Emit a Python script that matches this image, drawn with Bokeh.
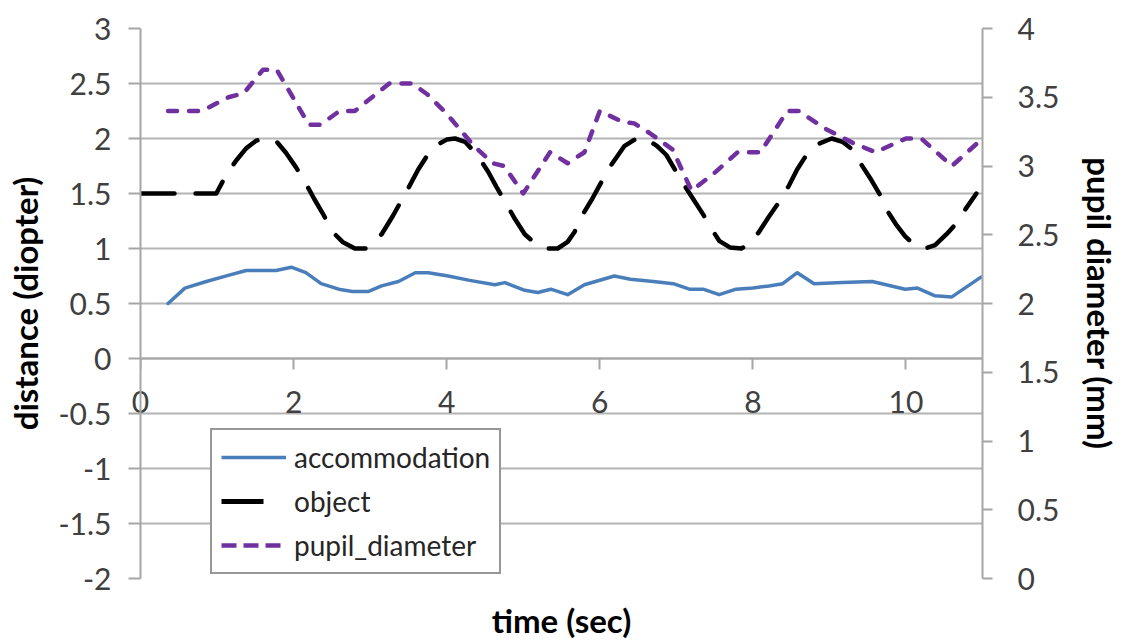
from bokeh.plotting import figure
from bokeh.models import Range1d, LinearAxis, FixedTicker, Legend, LegendItem
from bokeh.embed import file_html
from bokeh.resources import INLINE

# ---------------- data ----------------
acc_t = [0.36, 0.58, 0.86, 1.17, 1.38, 1.77, 1.97, 2.16, 2.36, 2.59, 2.77, 2.98, 3.15, 3.37,
         3.59, 3.76, 4.02, 4.30, 4.63, 4.76, 5.02, 5.19, 5.36, 5.58, 5.80, 6.19, 6.40, 6.70,
         6.96, 7.17, 7.35, 7.56, 7.78, 8.00, 8.21, 8.39, 8.58, 8.80, 9.17, 9.56, 9.99, 10.15,
         10.38, 10.60, 10.98]
acc_v = [0.50, 0.64, 0.70, 0.76, 0.80, 0.80, 0.83, 0.78, 0.68, 0.63, 0.61, 0.61, 0.66, 0.70,
         0.78, 0.78, 0.75, 0.71, 0.67, 0.69, 0.62, 0.60, 0.63, 0.58, 0.67, 0.75, 0.72, 0.70,
         0.68, 0.63, 0.63, 0.58, 0.63, 0.64, 0.66, 0.68, 0.78, 0.68, 0.69, 0.70, 0.63, 0.64,
         0.57, 0.56, 0.74]

obj_t = [0.00, 0.99, 1.12, 1.25, 1.38, 1.51, 1.64, 1.78, 1.90, 2.03, 2.16, 2.27, 2.38, 2.51,
         2.64, 2.80, 2.94, 3.05, 3.15, 3.30, 3.50, 3.63, 3.75, 3.87, 4.00, 4.11, 4.24, 4.40,
         4.54, 4.65, 4.76, 4.89, 5.02, 5.15, 5.30, 5.45, 5.58, 5.67, 5.77, 5.90, 6.01, 6.15,
         6.32, 6.48, 6.62, 6.75, 6.87, 6.98, 7.10, 7.22, 7.35, 7.46, 7.56, 7.70, 7.85, 7.95,
         8.08, 8.20, 8.35, 8.47, 8.58, 8.70, 8.82, 9.03, 9.17, 9.30, 9.42, 9.55, 9.66, 9.75,
         9.87, 9.99, 10.10, 10.25, 10.38, 10.53, 10.66, 10.78, 10.92]
obj_v = [1.50, 1.50, 1.67, 1.80, 1.91, 1.98, 2.00, 1.97, 1.87, 1.74, 1.59, 1.45, 1.32, 1.15,
         1.06, 1.00, 1.00, 1.06, 1.13, 1.30, 1.55, 1.72, 1.85, 1.94, 1.99, 2.00, 1.97, 1.85,
         1.70, 1.56, 1.43, 1.27, 1.13, 1.05, 1.00, 1.00, 1.06, 1.15, 1.30, 1.45, 1.59, 1.76,
         1.93, 2.00, 1.99, 1.93, 1.85, 1.72, 1.58, 1.45, 1.31, 1.18, 1.07, 1.01, 1.00, 1.04,
         1.15, 1.28, 1.43, 1.57, 1.72, 1.85, 1.94, 2.00, 1.97, 1.90, 1.76, 1.62, 1.49, 1.35,
         1.22, 1.11, 1.04, 1.00, 1.03, 1.13, 1.23, 1.36, 1.50]

pup_t = [0.36, 0.80, 1.15, 1.35, 1.60, 1.78, 2.20, 2.35, 2.60, 2.80, 3.25, 3.55, 3.75, 4.00,
         4.35, 4.60, 4.75, 5.00, 5.35, 5.58, 5.80, 6.00, 6.30, 6.45, 6.65, 6.95, 7.20, 7.50,
         7.80, 8.10, 8.45, 8.60, 8.95, 9.30, 9.60, 10.00, 10.20, 10.60, 11.00]
pup_v = [3.40, 3.40, 3.50, 3.53, 3.70, 3.70, 3.30, 3.30, 3.40, 3.40, 3.60, 3.60, 3.52, 3.38,
         3.15, 3.02, 3.00, 2.80, 3.10, 3.02, 3.10, 3.40, 3.32, 3.31, 3.24, 3.12, 2.82, 2.95,
         3.10, 3.10, 3.40, 3.40, 3.27, 3.17, 3.10, 3.20, 3.20, 3.00, 3.20]

x_ticks = [0, 2, 4, 6, 8, 10]
x_labels = ["0", "2", "4", "6", "8", "10"]
left_ticks = [-2, -1.5, -1, -0.5, 0, 0.5, 1, 1.5, 2, 2.5, 3]
left_labels = ["-2", "-1.5", "-1", "-0.5", "0", "0.5", "1", "1.5", "2", "2.5", "3"]
right_ticks = [0, 0.5, 1, 1.5, 2, 2.5, 3, 3.5, 4]
right_labels = ["0", "0.5", "1", "1.5", "2", "2.5", "3", "3.5", "4"]

series_names = ["accommodation", "object", "pupil_diameter"]

# ---------------- styling ----------------
FONT = "Lato"
TICK_COLOR = "#404040"
GRID = "#b4b4b4"
AXIS = "#a6a6a6"
C_ACC = "#4a7ebb"
C_OBJ = "#000000"
C_PUP = "#7030a0"
TICK_SIZE = "30px"
TITLE_SIZE = "33px"

p = figure(width=1123, height=643, output_backend="svg", toolbar_location=None,
           x_range=Range1d(0, 11), y_range=Range1d(-2, 3),
           min_border_left=140, min_border_right=135, min_border_top=28, min_border_bottom=65)
p.outline_line_color = None
p.background_fill_color = "white"
p.border_fill_color = "white"
p.xgrid.visible = False

left_ticker = FixedTicker(ticks=left_ticks)
x_ticker = FixedTicker(ticks=x_ticks)
p.ygrid.ticker = left_ticker
p.ygrid.grid_line_color = GRID
p.ygrid.grid_line_width = 2

# bottom axis: carries the tick labels (pulled up under the y=0 line) and the title
xa = p.xaxis[0]
xa.ticker = x_ticker
xa.major_label_overrides = {t: l for t, l in zip(x_ticks, x_labels)}
xa.axis_line_color = None
xa.major_tick_line_color = None
xa.minor_tick_line_color = None
xa.major_tick_in = 0
xa.major_tick_out = 0
xa.minor_tick_in = 0
xa.minor_tick_out = 0
xa.major_label_standoff = -188
xa.major_label_text_font = FONT
xa.major_label_text_font_size = TICK_SIZE
xa.major_label_text_color = TICK_COLOR
xa.axis_label = "time (sec)"
xa.axis_label_text_font = FONT
xa.axis_label_text_font_size = TITLE_SIZE
xa.axis_label_text_font_style = "bold"
xa.axis_label_text_color = "black"
xa.axis_label_standoff = 184

# axis line + ticks crossing at y = 0
xz = LinearAxis(ticker=x_ticker, fixed_location=0)
xz.major_label_text_alpha = 0
xz.minor_tick_line_color = None
xz.major_tick_in = 0
xz.major_tick_out = 11
xz.major_tick_line_color = AXIS
xz.major_tick_line_width = 2
xz.axis_line_color = AXIS
xz.axis_line_width = 2
p.add_layout(xz, "below")

ya = p.yaxis[0]
ya.ticker = left_ticker
ya.major_label_overrides = {t: l for t, l in zip(left_ticks, left_labels)}
ya.minor_tick_line_color = None
ya.major_tick_in = 0
ya.major_tick_out = 12
ya.major_tick_line_color = AXIS
ya.major_tick_line_width = 2
ya.axis_line_color = AXIS
ya.axis_line_width = 2
ya.major_label_standoff = 17
ya.major_label_text_font = FONT
ya.major_label_text_font_size = TICK_SIZE
ya.major_label_text_color = TICK_COLOR
ya.axis_label = "distance (diopter)"
ya.axis_label_text_font = FONT
ya.axis_label_text_font_size = TITLE_SIZE
ya.axis_label_text_font_style = "bold"
ya.axis_label_text_color = "black"
ya.axis_label_standoff = 10

p.extra_y_ranges = {"pupil": Range1d(0, 4)}
ra = LinearAxis(y_range_name="pupil", ticker=FixedTicker(ticks=right_ticks))
ra.major_label_overrides = {t: l for t, l in zip(right_ticks, right_labels)}
ra.minor_tick_line_color = None
ra.major_tick_in = 0
ra.major_tick_out = 10
ra.major_tick_line_color = AXIS
ra.major_tick_line_width = 2
ra.axis_line_color = AXIS
ra.axis_line_width = 2
ra.major_label_standoff = 25
ra.major_label_text_font = FONT
ra.major_label_text_font_size = TICK_SIZE
ra.major_label_text_color = TICK_COLOR
ra.axis_label = "pupil diameter (mm)"
ra.axis_label_text_font = FONT
ra.axis_label_text_font_size = TITLE_SIZE
ra.axis_label_text_font_style = "bold"
ra.axis_label_text_color = "black"
ra.axis_label_standoff = 18
p.add_layout(ra, "right")

# ---------------- lines ----------------
r_acc = p.line(acc_t, acc_v, line_color=C_ACC, line_width=3.5, line_join="round", line_cap="round")
r_obj = p.line(obj_t, obj_v, line_color=C_OBJ, line_width=4.5, line_dash="34 21",
               line_join="round", line_cap="round")
r_pup = p.line(pup_t, pup_v, line_color=C_PUP, line_width=4.5, line_dash="9 12",
               line_join="round", line_cap="round", y_range_name="pupil")

# legend proxies (no visible data) to mimic legend glyph appearance
nan = float("nan")
g_acc = p.line([nan], [nan], line_color=C_ACC, line_width=3.5)
g_obj = p.line([nan], [nan], line_color=C_OBJ, line_width=5, line_dash="42 80")
g_pup = p.line([nan], [nan], line_color=C_PUP, line_width=4.5, line_dash="15 7")

legend = Legend(items=[LegendItem(label=series_names[0], renderers=[g_acc]),
                       LegendItem(label=series_names[1], renderers=[g_obj]),
                       LegendItem(label=series_names[2], renderers=[g_pup])],
                location=(70, 4), orientation="vertical",
                glyph_width=65, glyph_height=36, label_height=36, label_standoff=8,
                spacing=8, padding=9, margin=0,
                label_text_font=FONT, label_text_font_size="28px", label_text_color="#262626",
                border_line_color="#303030", border_line_width=2,
                background_fill_color="white", background_fill_alpha=1)
p.add_layout(legend)

open("out.html", "w").write(file_html(p, INLINE))
